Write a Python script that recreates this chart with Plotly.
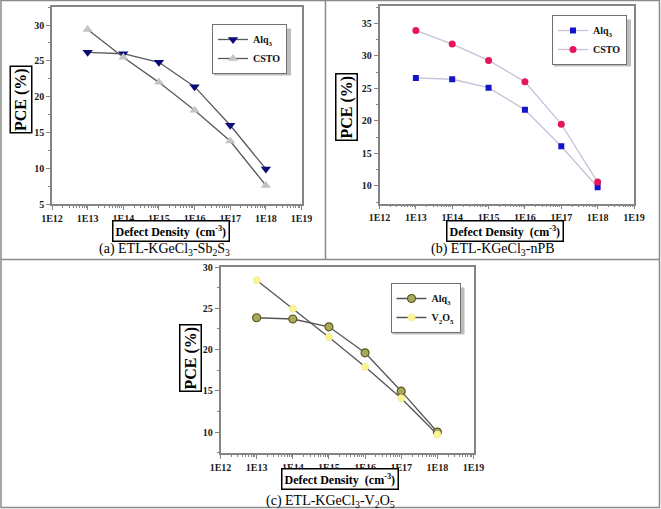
import plotly.graph_objects as go

W, H = 661, 509

# ---------------- data ----------------
defect_density = [1e13, 1e14, 1e15, 1e16, 1e17, 1e18]

a_alq3 = [26.2, 26.0, 24.8, 21.4, 16.0, 9.9]
a_csto = [29.4, 25.5, 22.0, 18.1, 13.8, 7.6]

b_alq3 = [26.6, 26.4, 25.1, 21.7, 16.1, 9.8]
b_csto = [33.9, 31.8, 29.3, 26.0, 19.5, 10.6]

c_alq3 = [23.85, 23.7, 22.75, 19.6, 14.95, 10.0]
c_v2o5 = [28.4, 24.95, 21.5, 17.9, 14.1, 9.7]

x_tick_vals = [1e12, 1e13, 1e14, 1e15, 1e16, 1e17, 1e18, 1e19]
x_tick_text = ["1E12", "1E13", "1E14", "1E15", "1E16", "1E17", "1E18", "1E19"]
a_y_ticks = [5, 10, 15, 20, 25, 30]
b_y_ticks = [10, 15, 20, 25, 30, 35]
c_y_ticks = [10, 15, 20, 25, 30]

SERIF = "Liberation Serif"
AXC = "#858585"


def px(x):
    return x / W


def py(y):
    return 1 - y / H


fig = go.Figure()

# (a)
fig.add_trace(go.Scatter(x=defect_density, y=a_alq3, name="Alq<sub>3</sub>", mode="lines+markers",
                         line=dict(color="#5a5a5a", width=1.3),
                         marker=dict(symbol="triangle-down", size=9, color="#0a0a78"),
                         xaxis="x", yaxis="y", legend="legend"))
fig.add_trace(go.Scatter(x=defect_density, y=a_csto, name="CSTO", mode="lines+markers",
                         line=dict(color="#5a5a5a", width=1.3),
                         marker=dict(symbol="triangle-up", size=9, color="#c4c4c4"),
                         xaxis="x", yaxis="y", legend="legend"))
# (b)
fig.add_trace(go.Scatter(x=defect_density, y=b_alq3, name="Alq<sub>3</sub>", mode="lines+markers",
                         line=dict(color="#c9c1d9", width=1.3),
                         marker=dict(symbol="square", size=6, color="#1414c8"),
                         xaxis="x2", yaxis="y2", legend="legend2"))
fig.add_trace(go.Scatter(x=defect_density, y=b_csto, name="CSTO", mode="lines+markers",
                         line=dict(color="#c9c1d9", width=1.3),
                         marker=dict(symbol="circle", size=7, color="#e5175a"),
                         xaxis="x2", yaxis="y2", legend="legend2"))
# (c)
fig.add_trace(go.Scatter(x=defect_density, y=c_alq3, name="Alq<sub>3</sub>", mode="lines+markers",
                         line=dict(color="#555555", width=1.3),
                         marker=dict(symbol="circle", size=8, color="#a8a860",
                                     line=dict(color="#5c5c1c", width=1.2)),
                         xaxis="x3", yaxis="y3", legend="legend3"))
fig.add_trace(go.Scatter(x=defect_density, y=c_v2o5, name="V<sub>2</sub>O<sub>5</sub>", mode="lines+markers",
                         line=dict(color="#555555", width=1.3),
                         marker=dict(symbol="circle", size=7, color="#fbf58a",
                                     line=dict(color="#f0e8a0", width=0.8)),
                         xaxis="x3", yaxis="y3", legend="legend3"))


def xaxis_cfg(dom, anchor):
    return dict(domain=dom, anchor=anchor, type="log", range=[12, 19],
                tickmode="array", tickvals=x_tick_vals, ticktext=x_tick_text,
                ticks="outside", ticklen=4, tickcolor=AXC, tickwidth=1,
                minor=dict(ticks="outside", ticklen=2, tickcolor=AXC, dtick="D1"),
                showline=True, linecolor=AXC, linewidth=1.5, mirror=True,
                showgrid=False, zeroline=False, automargin=False,
                tickfont=dict(family=SERIF, size=10, color="#1a1a1a", weight="bold"))


def yaxis_cfg(dom, anchor, rng, ticks):
    return dict(domain=dom, anchor=anchor, range=rng,
                tickmode="array", tickvals=ticks,
                ticks="outside", ticklen=4, tickcolor=AXC, tickwidth=1,
                minor=dict(ticks="outside", ticklen=2, tickcolor=AXC, dtick=2.5, tick0=0),
                showline=True, linecolor=AXC, linewidth=1.5, mirror=True,
                showgrid=False, zeroline=False, automargin=False,
                tickfont=dict(family=SERIF, size=10, color="#1a1a1a", weight="bold"))


legend_common = dict(bgcolor="white", bordercolor="#707070", borderwidth=1,
                     font=dict(family=SERIF, size=10, color="#111", weight="bold"),
                     xanchor="center", yanchor="middle", itemwidth=30, tracegroupgap=0)

fig.update_layout(
    width=W, height=H, margin=dict(l=0, r=0, t=0, b=0, pad=0, autoexpand=False),
    paper_bgcolor="white", plot_bgcolor="white", showlegend=True,
    xaxis=xaxis_cfg([px(52), px(301.5)], "y"),
    yaxis=yaxis_cfg([py(204), py(6.5)], "x", [5, 32.6], a_y_ticks),
    xaxis2=xaxis_cfg([px(379.5), px(634)], "y2"),
    yaxis2=yaxis_cfg([py(203.5), py(6)], "x2", [7.3, 37.66], b_y_ticks),
    xaxis3=xaxis_cfg([px(220.5), px(473.5)], "y3"),
    yaxis3=yaxis_cfg([py(453), py(267)], "x3", [7.46, 30], c_y_ticks),
    legend=dict(x=px(249.5), y=py(49), **legend_common),
    legend2=dict(x=px(589.5), y=py(40), **legend_common),
    legend3=dict(x=px(425.5), y=py(308), **legend_common),
)

# frame lines and legend shadows
FR = "#8a8a8a"
SH = "#bdbdbd"
shapes = [
    dict(type="rect", xref="paper", yref="paper", x0=px(1), x1=px(659.5), y0=py(507.5), y1=py(0.5),
         line=dict(color=FR, width=1.5)),
    dict(type="line", xref="paper", yref="paper", x0=px(1), x1=px(659.5), y0=py(259.5), y1=py(259.5),
         line=dict(color=FR, width=1.5)),
    dict(type="line", xref="paper", yref="paper", x0=px(325.5), x1=px(325.5), y0=py(0.5), y1=py(259.5),
         line=dict(color=FR, width=1.5)),
]
for (x0, x1, y0, y1) in [(214, 291, 28.5, 75.5), (554, 631, 19.5, 66.5), (392.5, 464.5, 287.5, 334.5)]:
    shapes.append(dict(type="rect", xref="paper", yref="paper", layer="above",
                       x0=px(x0), x1=px(x1), y0=py(y1), y1=py(y0),
                       line=dict(width=0), fillcolor=SH))
fig.update_layout(shapes=shapes)

annots = []
# y titles
for xc, yc in [(20.5, 100), (346, 107), (190, 358)]:
    annots.append(dict(xref="paper", yref="paper", x=px(xc), y=py(yc), xanchor="center", yanchor="middle",
                       text="PCE (%)", textangle=-90,
                       showarrow=False, font=dict(family=SERIF, size=16, color="black", weight="bold"),
                       bordercolor="black", borderwidth=1.5, borderpad=1, bgcolor="white"))
# x titles
for xc, yc in [(171, 231), (505, 231), (340, 479)]:
    annots.append(dict(xref="paper", yref="paper", x=px(xc), y=py(yc), xanchor="center", yanchor="middle",
                       text="Defect Density  (cm<sup>-3</sup>)",
                       showarrow=False, font=dict(family=SERIF, size=12, color="black", weight="bold"),
                       bordercolor="black", borderwidth=1.5, borderpad=2, bgcolor="white"))
# captions
captions = [
    (164, 249, "(a) ETL-KGeCl<sub>3</sub>-Sb<sub>2</sub>S<sub>3</sub>"),
    (493, 249, "(b) ETL-KGeCl<sub>3</sub>-nPB"),
    (330, 501, "(c) ETL-KGeCl<sub>3</sub>-V<sub>2</sub>O<sub>5</sub>"),
]
for xc, yc, t in captions:
    annots.append(dict(xref="paper", yref="paper", x=px(xc), y=py(yc), xanchor="center", yanchor="middle",
                       text=t, showarrow=False,
                       font=dict(family=SERIF, size=14, color="black")))
fig.update_layout(annotations=annots)

fig.write_html(
    "out.html",
    config={"displayModeBar": False},
    post_script="document.body.style.margin='0';document.body.style.padding='0';"
                "document.body.style.overflow='hidden';",
)
